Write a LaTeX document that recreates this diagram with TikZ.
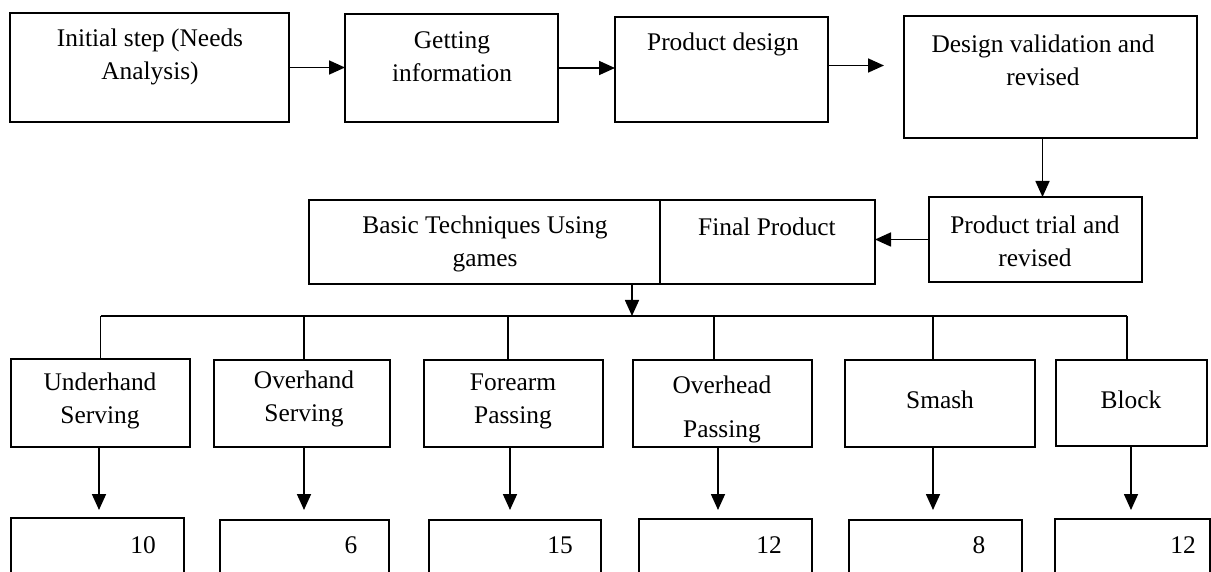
\documentclass[tikz,border=0pt]{standalone}
\usepackage{fontspec}
\setmainfont{Liberation Serif}
\usetikzlibrary{arrows.meta,fit,calc}
\begin{document}
\begin{tikzpicture}[x=0.5pt,y=-0.5pt,
  box/.style={draw,line width=0.85pt,inner sep=0pt,outer sep=0pt},
  txt/.style={inner sep=0pt,align=center,font=\fontsize{12.7}{16.5}\selectfont},
  arr/.style={line width=0.85pt,-{Triangle[length=8pt,width=7pt]}},
  ln/.style={line width=0.85pt}]
\useasboundingbox (0,0) rectangle (1211,572);
\clip (0,0) rectangle (1211,572);
% top row
\node[box,fit={(10,13) (289,122)}] (b1) {};
\node[box,fit={(345,14) (558,122)}] (b2) {};
\node[box,fit={(615,17) (828,122)}] (b3) {};
\node[box,fit={(904,16) (1197,138)}] (b4) {};
\node[box,fit={(929,197) (1142,282)}] (b5) {};
\node[box,fit={(309,200) (660,284)}] (bt) {};
\node[box,fit={(660,200) (875,284)}] (fp) {};
\node[txt] (b1t) at (150,57) {Initial step (Needs\\Analysis)};
\node[txt] (b2t) at (452,57) {Getting\\information};
\node[txt] (b3t) at (723,44) {Product design};
\node[txt] (b4t) at (1043,60) {Design validation and\\revised};
\node[txt] (b5t) at (1035,241) {Product trial and\\revised};
\node[txt] (btt) at (485,244) {Basic Techniques Using\\games};
\node[txt] (fpt) at (767,227) {Final Product};
% connectors top
\draw[arr] (b1.east) -- (b1.east -| b2.west);
\draw[arr] (b2.east) -- (b2.east -| b3.west);
\draw[arr,shorten >=10pt] ([yshift=2pt]b3.east) -- ([yshift=2pt]b3.east -| b4.west);
\draw[arr] ([xshift=-4pt]b4.south) -- ([xshift=-4pt]b4.south |- b5.north);
\draw[arr] (b5.west) -- (b5.west -| fp.east);
% technique boxes
\node[box,fit={(11,359) (190,447)}] (u1) {};
\node[box,fit={(214,360) (390,447)}] (u2) {};
\node[box,fit={(424,360) (603,447)}] (u3) {};
\node[box,fit={(633,360) (812,447)}] (u4) {};
\node[box,fit={(845,360) (1035,447)}] (u5) {};
\node[box,fit={(1056,360) (1207,446)}] (u6) {};
\node[txt] (u1t) at (100,401) {Underhand\\Serving};
\node[txt] (u2t) at (304,399) {Overhand\\Serving};
\node[txt] (u3t) at (513,401) {Forearm\\Passing};
\begin{scope}
\clip (u4.north west) rectangle ([yshift=0.5pt]u4.south east);
\node[txt] (u4t) at (722,409) {Overhead\\[5.5pt]Passing};
\end{scope}
\node[txt] (u5t) at (940,400) {Smash};
\node[txt] (u6t) at (1131,400) {Block};
% bar
\coordinate (bar) at (632,316);
\draw[arr] (fp.south -| bar) -- (bar);
\draw[ln] (u1.north |- bar) -- ([xshift=-2.25pt]u6.north |- bar);
\draw[ln] (u1.north) -- (u1.north |- bar);
\draw[ln] ([xshift=1pt]u2.north) -- ([xshift=1pt]u2.north |- bar);
\draw[ln] ([xshift=-2.75pt]u3.north) -- ([xshift=-2.75pt]u3.north |- bar);
\draw[ln] ([xshift=-4.25pt]u4.north) -- ([xshift=-4.25pt]u4.north |- bar);
\draw[ln] ([xshift=-3.5pt]u5.north) -- ([xshift=-3.5pt]u5.north |- bar);
\draw[ln] ([xshift=-2.25pt]u6.north) -- ([xshift=-2.25pt]u6.north |- bar);
% number boxes
\node[box,fit={(11,518) (184,600)}] (n1) {};
\node[box,fit={(220,520) (389,600)}] (n2) {};
\node[box,fit={(429,520) (601,600)}] (n3) {};
\node[box,fit={(639,519) (812,600)}] (n4) {};
\node[box,fit={(849,520) (1022,600)}] (n5) {};
\node[box,fit={(1055,519) (1210,600)}] (n6) {};
\node[txt] (n1t) at (143,545) {10};
\node[txt] (n2t) at (351,545) {6};
\node[txt] (n3t) at (560,545) {15};
\node[txt] (n4t) at (769,545) {12};
\node[txt] (n5t) at (979,545) {8};
\node[txt] (n6t) at (1183,545) {12};
\draw[arr,shorten >=4pt] ([xshift=-0.75pt]u1.south) -- ([xshift=-0.75pt]u1.south |- n1.north);
\draw[arr,shorten >=5pt] ([xshift=1pt]u2.south) -- ([xshift=1pt]u2.south |- n2.north);
\draw[arr,shorten >=5pt] ([xshift=-1.75pt]u3.south) -- ([xshift=-1.75pt]u3.south |- n3.north);
\draw[arr,shorten >=4.5pt] ([xshift=-2.25pt]u4.south) -- ([xshift=-2.25pt]u4.south |- n4.north);
\draw[arr,shorten >=5pt] ([xshift=-3.5pt]u5.south) -- ([xshift=-3.5pt]u5.south |- n5.north);
\draw[arr,shorten >=4.5pt] ([xshift=-0.25pt]u6.south) -- ([xshift=-0.25pt]u6.south |- n6.north);
\end{tikzpicture}
\end{document}
